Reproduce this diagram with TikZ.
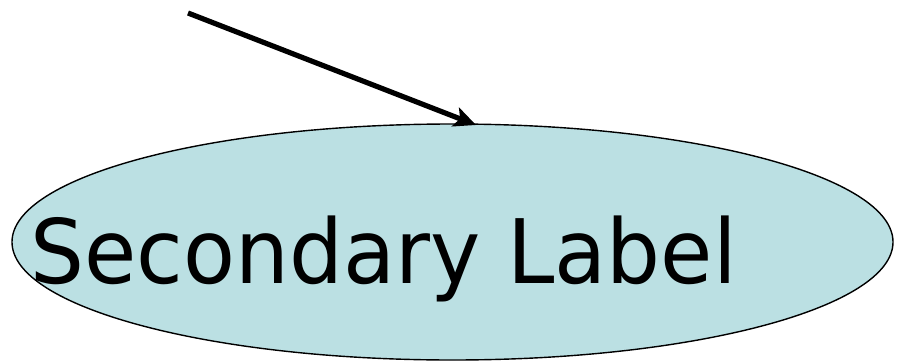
\documentclass[tikz,border=0pt]{standalone}
\usepackage{fontspec}
\setmainfont[FakeStretch=0.955]{DejaVu Sans}
\usetikzlibrary{shapes.geometric,arrows.meta}
\definecolor{ellfill}{RGB}{187,224,227}
\tikzset{
  ellbox/.style={ellipse, draw=black, line width=1.4pt, fill=ellfill, inner sep=0pt, minimum width=881pt, minimum height=236pt},
  lbl/.style={inner sep=0pt, anchor=base west, font=\fontsize{89pt}{100pt}\selectfont},
  arr/.style={line width=5.2pt, -{Stealth[length=22pt,width=20pt,inset=5pt]}}
}
\begin{document}
\begin{tikzpicture}[x=1pt,y=-1pt]
\useasboundingbox (0,0) rectangle (901,361);
\node[ellbox] (ell) at (452.5,242) {};
\node[lbl] (txt) at (30,283) {Secondary Label};
\coordinate (src) at (188,13);
\coordinate (tip) at (476,125);
\draw[arr] (src) -- (tip);
\end{tikzpicture}
\end{document}
